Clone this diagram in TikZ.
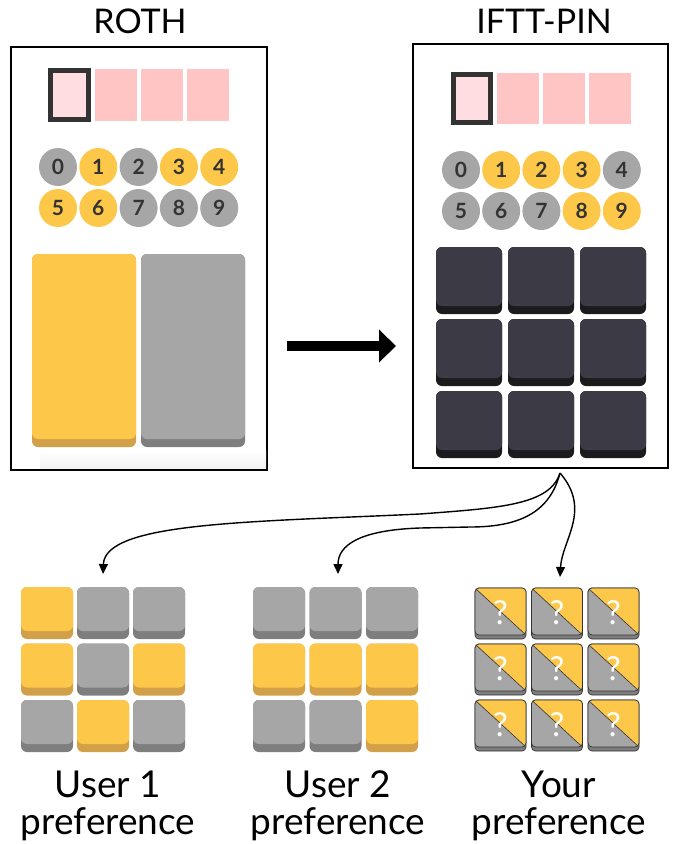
\documentclass[tikz,border=0pt]{standalone}
\usepackage{fontspec}
\setmainfont{Lato}
\usetikzlibrary{arrows.meta,positioning}

\definecolor{pinyellow}{HTML}{FDC84A}
\definecolor{pinyellowedge}{HTML}{D1A048}
\definecolor{pingray}{HTML}{A6A6A6}
\definecolor{pingrayedge}{HTML}{7E7E7E}
\definecolor{pindark}{HTML}{3C3A45}
\definecolor{pindarkedge}{HTML}{1B1B1D}
\definecolor{pinpink}{HTML}{FFC5C5}
\definecolor{pinpinklight}{HTML}{FFDDE0}
\definecolor{pinframe}{HTML}{333333}

% a key with a darker bottom edge: x, y, width, height, top colour, edge colour
\newcommand{\pinkey}[6]{%
  \fill[#6, rounded corners=6] ({#1},{#2}) rectangle ++({#3},{#4});
  \fill[#5, rounded corners=6] ({#1},{#2}) rectangle ++({#3},{#4-8});
}

\tikzset{
  phonebox/.style={draw=black, line width=2, inner sep=0},
  title/.style={font=\fontsize{34}{36}\selectfont},
  digit/.style={circle, minimum size=38, inner sep=0, text=pinframe,
    font=\fontsize{21}{21}\selectfont\bfseries},
  caption/.style={align=center, font=\fontsize{37}{37}\selectfont},
  bigarrow/.style={line width=10, -{Triangle[length=17pt,width=32pt]}},
  forkarrow/.style={line width=1.4, -{Triangle[length=10pt,width=9pt]}},
}

\begin{document}
\begin{tikzpicture}[x=1pt, y=-1pt]
  \useasboundingbox (0,0) rectangle (677,844);

  % The two phone screens
  \node[phonebox, minimum width=256, minimum height=423] (roth) at (139,258.5) {};
  \node[phonebox, minimum width=255, minimum height=424] (iftt) at (540.5,256) {};
  \node[title] (rothlabel) at (140,21) {ROTH};
  \node[title] (ifttlabel) at (544,21) {IFTT-PIN};

  % PIN slots
  \draw[pinframe, fill=pinpinklight, line width=5] (50.5,70.5) rectangle (88.5,119.5);
  \foreach \sx in {95,141,187}
    \fill[pinpink] (\sx,69) rectangle ++(42,52);
  \draw[pinframe, fill=pinpinklight, line width=5] (453.5,74.5) rectangle (490.5,122.5);
  \foreach \sx in {497,543,589}
    \fill[pinpink] (\sx,73) rectangle ++(42,51);

  % Digits
  \foreach \d/\c in {0/pingray,1/pinyellow,2/pingray,3/pinyellow,4/pinyellow,
                     5/pinyellow,6/pinyellow,7/pingray,8/pingray,9/pingray}
    \node[digit, fill=\c] (roth-d\d) at ({58+40.3*mod(\d,5)},{167+41*int(\d/5)}) {\d};
  \foreach \d/\c in {0/pingray,1/pinyellow,2/pinyellow,3/pinyellow,4/pingray,
                     5/pingray,6/pingray,7/pingray,8/pinyellow,9/pinyellow}
    \node[digit, fill=\c] (iftt-d\d) at ({461+40.2*mod(\d,5)},{170+41*int(\d/5)}) {\d};

  % ROTH keys
  \shade[top color=white, bottom color=black!5] (40,450) rectangle (266,468);
  \pinkey{32}{254}{104}{193}{pinyellow}{pinyellowedge}
  \pinkey{141}{254}{104}{193}{pingray}{pingrayedge}

  % IFTT-PIN keys
  \foreach \i in {0,...,8} {
    \pinkey{436+72*mod(\i,3)}{247+72*int(\i/3)}{66}{67}{pindark}{pindarkedge}
  }

  % Big arrow
  \coordinate (arrowrow) at (0,346);
  \draw[bigarrow, shorten <=19, shorten >=16] (roth.east |- arrowrow) -- (iftt.west |- arrowrow);

  % User 1 and User 2 preferences
  \foreach \t/\e [count=\i from 0] in {pinyellow/pinyellowedge,pingray/pingrayedge,pingray/pingrayedge,
      pinyellow/pinyellowedge,pingray/pingrayedge,pinyellow/pinyellowedge,
      pingray/pingrayedge,pinyellow/pinyellowedge,pingray/pingrayedge} {
    \pinkey{21+56*mod(\i,3)}{587+56.5*int(\i/3)}{52}{52}{\t}{\e}
  }
  \foreach \t/\e [count=\i from 0] in {pingray/pingrayedge,pingray/pingrayedge,pingray/pingrayedge,
      pinyellow/pinyellowedge,pinyellow/pinyellowedge,pinyellow/pinyellowedge,
      pingray/pingrayedge,pingray/pingrayedge,pinyellow/pinyellowedge} {
    \pinkey{253+56.5*mod(\i,3)}{587+56.5*int(\i/3)}{52}{52}{\t}{\e}
  }

  % Your preference: unknown keys
  \foreach \i in {0,...,8} {
    \pgfmathsetmacro{\kx}{475+56.5*mod(\i,3)}
    \pgfmathsetmacro{\ky}{588+56*int(\i/3)}
    \filldraw[pingrayedge, draw=pinframe, line width=0.7, rounded corners=4] (\kx,\ky) rectangle ++(51,51);
    \begin{scope}
      \clip[rounded corners=4] (\kx,\ky) rectangle ++(51,47);
      \fill[pingray] (\kx,\ky) rectangle ++(51,47);
      \fill[pinyellow] (\kx,\ky) -- ++(51,0) -- ++(0,47) -- cycle;
      \draw[pinframe, line width=0.6] (\kx,\ky) -- ++(51,47);
    \end{scope}
    \draw[pinframe, line width=0.7, rounded corners=4] (\kx,\ky) rectangle ++(51,47);
    \node[text=white, font=\fontsize{33}{33}\selectfont] (q\i) at (\kx+25.5,\ky+25) {?};
  }

  % Captions
  \node[caption] (user1) at (108,806) {User 1\\preference};
  \node[caption] (user2) at (338,806) {User 2\\preference};
  \node[caption] (yours) at (559,806) {Your\\preference};

  % Fork arrows
  \coordinate (fork) at (560,473);
  \coordinate (user1top) at (103,574);
  \coordinate (user2top) at (338,574);
  \coordinate (yourstop) at (560,577);
  \draw[forkarrow] (fork) .. controls (550,505) and (500,508) .. (420,514)
    .. controls (250,522) and (105,522) .. (user1top);
  \draw[forkarrow] (fork) .. controls (550,512) and (520,527) .. (470,527)
    -- (420,528) .. controls (360,530) and (338,545) .. (user2top);
  \draw[forkarrow] (fork) .. controls (592,510) and (562,540) .. (yourstop);
\end{tikzpicture}
\end{document}
